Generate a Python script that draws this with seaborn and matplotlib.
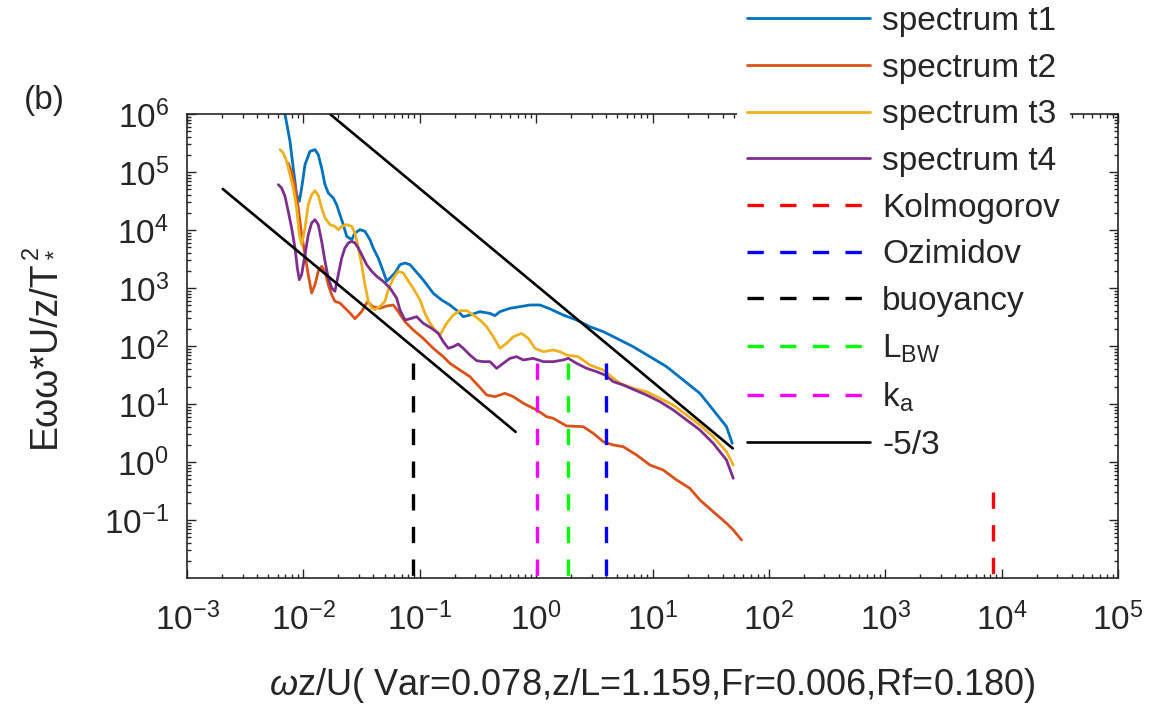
import numpy as np
import pandas as pd
import matplotlib
matplotlib.use("Agg")
import matplotlib.pyplot as plt
import seaborn as sns
from matplotlib.lines import Line2D
from matplotlib.ticker import LogLocator, LogFormatterSciNotation, NullFormatter

# ---------------- data (decade exponents) ----------------
t1_logx = [-2.175, -2.158, -2.115, -2.087, -2.058, -2.035, -2.015, -1.986, -1.943, -1.900,
           -1.872, -1.843, -1.814, -1.786, -1.743, -1.714, -1.686, -1.657, -1.628, -1.585,
           -1.557, -1.514, -1.471, -1.428, -1.400, -1.357, -1.314, -1.284, -1.256, -1.213,
           -1.170, -1.127, -1.084, -1.056, -0.970, -0.884, -0.812, -0.741, -0.669, -0.626,
           -0.569, -0.483, -0.397, -0.354, -0.311, -0.225, -0.139, -0.053, 0.033, 0.119,
           0.233, 0.348, 0.462, 0.577, 0.692, 0.834, 0.978, 1.121, 1.264, 1.407,
           1.522, 1.636, 1.685]
t1_logy = [6.19, 6.000, 5.529, 5.069, 4.609, 4.494, 4.724, 5.126, 5.357, 5.385,
           5.299, 5.069, 4.781, 4.638, 4.552, 4.437, 4.264, 4.092, 3.891, 3.833,
           3.948, 4.006, 3.977, 3.833, 3.690, 3.517, 3.288, 3.115, 3.172, 3.259,
           3.402, 3.431, 3.402, 3.339, 3.138, 2.909, 2.793, 2.707, 2.592, 2.506,
           2.534, 2.592, 2.563, 2.523, 2.592, 2.650, 2.678, 2.707, 2.707, 2.640,
           2.534, 2.448, 2.333, 2.247, 2.132, 1.988, 1.816, 1.643, 1.414, 1.184,
           0.897, 0.609, 0.322]

t2_logx = [-2.130, -2.100, -2.072, -2.044, -2.015, -1.986, -1.958, -1.929, -1.900, -1.872,
           -1.843, -1.814, -1.786, -1.757, -1.729, -1.686, -1.643, -1.600, -1.557, -1.500,
           -1.449, -1.403, -1.342, -1.284, -1.227, -1.184, -1.127, -1.056, -0.970, -0.884,
           -0.798, -0.741, -0.655, -0.569, -0.483, -0.425, -0.354, -0.268, -0.196, -0.110,
           0.004, 0.090, 0.147, 0.262, 0.405, 0.491, 0.577, 0.663, 0.748, 0.863,
           0.978, 1.092, 1.207, 1.321, 1.407, 1.522, 1.636, 1.694, 1.765]
t2_logy = [5.150, 5.000, 4.750, 4.379, 3.919, 3.575, 3.230, 2.914, 3.057, 3.288,
           3.374, 3.288, 3.057, 2.885, 2.770, 2.741, 2.655, 2.569, 2.471, 2.592,
           2.764, 2.678, 2.650, 2.690, 2.707, 2.592, 2.419, 2.276, 2.132, 1.960,
           1.816, 1.701, 1.586, 1.471, 1.285, 1.155, 1.126, 1.184, 1.126, 1.012,
           0.897, 0.781, 0.753, 0.621, 0.609, 0.494, 0.350, 0.293, 0.264, 0.121,
           -0.052, -0.138, -0.310, -0.454, -0.655, -0.857, -1.057, -1.172, -1.345]

t3_logx = [-2.201, -2.173, -2.144, -2.115, -2.087, -2.058, -2.035, -2.015, -1.986, -1.958,
           -1.929, -1.900, -1.872, -1.843, -1.814, -1.771, -1.729, -1.700, -1.671, -1.628,
           -1.585, -1.557, -1.528, -1.499, -1.471, -1.442, -1.413, -1.385, -1.342, -1.299,
           -1.270, -1.227, -1.184, -1.141, -1.113, -1.056, -0.998, -0.955, -0.912, -0.869,
           -0.826, -0.769, -0.712, -0.655, -0.597, -0.540, -0.483, -0.425, -0.368, -0.311,
           -0.253, -0.196, -0.125, -0.067, -0.010, 0.062, 0.147, 0.204, 0.262, 0.362,
           0.462, 0.577, 0.663, 0.720, 0.834, 0.949, 1.064, 1.178, 1.293, 1.407,
           1.522, 1.636, 1.694]
t3_logy = [5.385, 5.328, 5.184, 4.954, 4.724, 4.379, 3.919, 3.747, 4.034, 4.437,
           4.609, 4.678, 4.598, 4.379, 4.207, 4.092, 4.063, 4.006, 4.063, 4.092,
           4.063, 3.948, 3.690, 3.402, 3.057, 2.770, 2.655, 2.626, 2.684, 2.770,
           2.971, 3.172, 3.288, 3.259, 3.167, 2.994, 2.793, 2.563, 2.391, 2.276,
           2.190, 2.391, 2.534, 2.609, 2.609, 2.534, 2.448, 2.333, 2.160, 1.960,
           2.047, 2.160, 2.218, 2.132, 1.960, 1.902, 1.931, 1.902, 1.845, 1.816,
           1.672, 1.586, 1.443, 1.357, 1.270, 1.212, 1.098, 0.983, 0.810, 0.638,
           0.436, 0.178, -0.052]

t4_logx = [-2.215, -2.187, -2.158, -2.130, -2.101, -2.072, -2.052, -2.035, -2.015, -1.986,
           -1.958, -1.929, -1.900, -1.872, -1.843, -1.814, -1.786, -1.757, -1.729, -1.700,
           -1.671, -1.643, -1.614, -1.585, -1.557, -1.528, -1.499, -1.456, -1.413, -1.370,
           -1.314, -1.256, -1.199, -1.170, -1.127, -1.070, -1.027, -0.970, -0.898, -0.841,
           -0.798, -0.755, -0.712, -0.669, -0.626, -0.569, -0.511, -0.454, -0.397, -0.339,
           -0.283, -0.225, -0.168, -0.110, -0.025, 0.062, 0.147, 0.233, 0.276, 0.348,
           0.434, 0.520, 0.591, 0.663, 0.748, 0.834, 0.949, 1.064, 1.178, 1.293,
           1.407, 1.522, 1.636, 1.694]
t4_logy = [4.781, 4.724, 4.581, 4.322, 4.034, 3.690, 3.345, 3.143, 3.230, 3.575,
           3.919, 4.121, 4.178, 4.092, 3.805, 3.460, 3.172, 3.000, 2.943, 3.230,
           3.517, 3.690, 3.776, 3.805, 3.776, 3.690, 3.575, 3.402, 3.288, 3.201,
           3.115, 3.000, 2.828, 2.621, 2.448, 2.477, 2.506, 2.391, 2.305, 2.218,
           2.075, 1.960, 1.988, 2.034, 1.960, 1.845, 1.747, 1.730, 1.730, 1.615,
           1.701, 1.787, 1.816, 1.759, 1.787, 1.730, 1.730, 1.759, 1.787, 1.701,
           1.615, 1.557, 1.500, 1.385, 1.328, 1.253, 1.155, 1.040, 0.897, 0.724,
           0.552, 0.322, 0.034, -0.281]

series_names = ["spectrum t1", "spectrum t2", "spectrum t3", "spectrum t4"]
series_colors = ["#0072BD", "#D95319", "#EDB120", "#7E2F8E"]

# -5/3 reference lines (end points)
slope1_x = [2.03e-3, 0.667]
slope1_y = [5.1e4, 3.3]
slope2_x = [0.0169, 48.9]
slope2_y = [1.0e6, 1.72]

# vertical scale markers: name, x position, top, bottom
marker_names = ["Kolmogorov", "Ozimidov", "buoyancy", "L$_{\\mathrm{BW}}$", "k$_{\\mathrm{a}}$"]
marker_x = [8400.0, 3.95, 0.088, 1.88, 1.02]
marker_top = [0.3, 50.0, 50.0, 50.0, 50.0]
marker_bottom = [0.01, 0.01, 0.01, 0.01, 0.01]
marker_colors = ["#FF0000", "#0000FF", "#000000", "#00FF00", "#FF00FF"]

x_ticks = [1e-3, 1e-2, 1e-1, 1e0, 1e1, 1e2, 1e3, 1e4, 1e5]
y_ticks = [1e-1, 1e0, 1e1, 1e2, 1e3, 1e4, 1e5, 1e6]

# ---------------- styling ----------------
sns.set_theme(style="white")
plt.rcParams["font.family"] = ["Liberation Sans", "DejaVu Sans"]
plt.rcParams["mathtext.fontset"] = "custom"
plt.rcParams["mathtext.rm"] = "Liberation Sans"
plt.rcParams["mathtext.it"] = "Liberation Sans:italic"
plt.rcParams["mathtext.bf"] = "Liberation Sans:bold"
plt.rcParams["axes.unicode_minus"] = False

TXT = "#262626"
W, H = 1176, 709
fig = plt.figure(figsize=(W / 100, H / 100), dpi=100)
fig.patch.set_facecolor("white")
ax = fig.add_axes([187 / W, 1 - 578 / H, (1118 - 187) / W, (578 - 114) / H])
ax.set_facecolor("white")
ax.set_xscale("log")
ax.set_yscale("log")

# spectra
frames = []
for name, lx, ly in zip(series_names, [t1_logx, t2_logx, t3_logx, t4_logx],
                        [t1_logy, t2_logy, t3_logy, t4_logy]):
    assert len(lx) == len(ly)
    frames.append(pd.DataFrame({"x": 10.0 ** np.array(lx), "y": 10.0 ** np.array(ly),
                                "series": name}))
df = pd.concat(frames, ignore_index=True)
sns.lineplot(data=df, x="x", y="y", hue="series", hue_order=series_names,
             palette=series_colors, sort=False, estimator=None, lw=2.0,
             ax=ax, legend=False)

# -5/3 lines
for sx, sy in [(slope1_x, slope1_y), (slope2_x, slope2_y)]:
    sns.lineplot(x=sx, y=sy, color="black", lw=1.9, sort=False, estimator=None, ax=ax)

# vertical dashed markers
DASH = (4.9, 4.9)
for mx, mt, mb, mc in zip(marker_x, marker_top, marker_bottom, marker_colors):
    sns.lineplot(x=[mx, mx], y=[mt, mb], color=mc, lw=2.4, sort=False,
                 estimator=None, ax=ax)
    ax.lines[-1].set_dashes(DASH)

ax.set_xlim(1e-3, 1e5)
ax.set_ylim(1e-2, 1e6)
ax.set_xticks(x_ticks)
ax.set_yticks(y_ticks)
ax.xaxis.set_minor_locator(LogLocator(base=10, subs=np.arange(2, 10), numticks=100))
ax.yaxis.set_minor_locator(LogLocator(base=10, subs=np.arange(2, 10), numticks=100))
ax.xaxis.set_major_formatter(LogFormatterSciNotation())
ax.yaxis.set_major_formatter(LogFormatterSciNotation())
ax.xaxis.set_minor_formatter(NullFormatter())
ax.yaxis.set_minor_formatter(NullFormatter())

ax.tick_params(which="both", direction="in", top=True, right=True, bottom=True, left=True,
               color=TXT, width=1.0)
ax.tick_params(which="major", length=6.5)
ax.tick_params(which="minor", length=3.2)
ax.tick_params(axis="x", which="major", labelsize=24, pad=18, labelcolor=TXT)
ax.tick_params(axis="y", which="major", labelsize=24, pad=13, labelcolor=TXT)
for sp in ax.spines.values():
    sp.set_visible(True)
    sp.set_color(TXT)
    sp.set_linewidth(1.2)
ax.grid(False)

ax.set_xlabel("$\\mathit{ω}$z/U( Var=0.078,z/L=1.159,Fr=0.006,Rf=0.180)",
              fontsize=26, color=TXT)
ax.xaxis.set_label_coords(0.5, (578 - 666) / 464)

# y label: plain text body plus stacked sub/superscript on the T
YL_FS = 27
ylab = ax.set_ylabel("Eωω*U/z/T", fontsize=YL_FS, color=TXT)
ax.yaxis.set_label_coords((63 - 187) / 931, 0.5 - 8 / 464)

fig.text(44 / W, 1 - 100 / H, "(b)", fontsize=24, color=TXT, ha="center", va="center")

# legend
LEG_FS = 24
handles = []
for name, c in zip(series_names, series_colors):
    handles.append(Line2D([], [], color=c, lw=2.0, label=name))
for name, c in zip(marker_names, marker_colors):
    h = Line2D([], [], color=c, lw=2.4, label=name)
    h.set_dashes(DASH)
    handles.append(h)
handles.append(Line2D([], [], color="black", lw=1.9, label="-5/3"))
leg = ax.legend(handles=handles, loc="upper left",
                bbox_to_anchor=(737 / W, 1 + 4 / H), bbox_transform=fig.transFigure,
                fontsize=LEG_FS, frameon=True, facecolor="white", edgecolor="none",
                framealpha=1.0, fancybox=False, borderpad=0.3, labelspacing=0.47,
                handlelength=3.7, handletextpad=0.36, borderaxespad=0.0)
for t in leg.get_texts():
    t.set_color(TXT)
leg.set_zorder(10)

# place the scripts after the rotated "T"
fig.canvas.draw()
bb = ylab.get_window_extent(renderer=fig.canvas.get_renderer())
em = YL_FS * fig.dpi / 72.0
base_x = bb.x1 - 0.212 * em
top_y = bb.y1
fig.text((base_x - 0.62 * em) / W, (top_y + 1) / H, "2", fontsize=17, rotation=90,
         ha="center", va="bottom", color=TXT)
fig.text((base_x + 0.02 * em) / W, (top_y + 1) / H, "*", fontsize=17, rotation=90,
         ha="center", va="bottom", color=TXT)

fig.savefig("out.png", dpi=100, facecolor="white")
